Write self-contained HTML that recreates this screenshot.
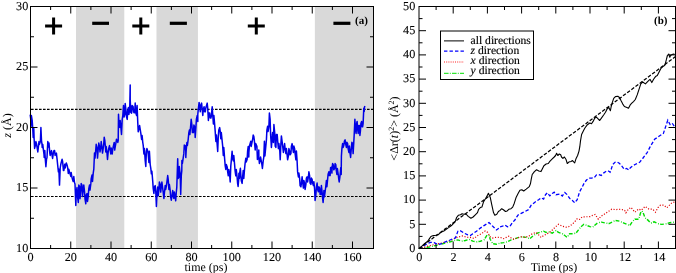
<!DOCTYPE html>
<html><head><meta charset="utf-8"><style>html,body{margin:0;padding:0;background:#fff;}svg{display:block;will-change:transform;text-rendering:geometricPrecision;}</style></head>
<body><svg width="676" height="273" viewBox="0 0 676 273"><rect x="75.98" y="6.5" width="48.30" height="242.0" fill="#d9d9d9"/>
<rect x="156.48" y="6.5" width="41.46" height="242.0" fill="#d9d9d9"/>
<rect x="314.87" y="6.5" width="58.63" height="242.0" fill="#d9d9d9"/>
<line x1="31.0" y1="109.35" x2="373.5" y2="109.35" stroke="#000" stroke-width="1.1" stroke-dasharray="2.6,1.4"/>
<line x1="31.0" y1="196.47" x2="373.5" y2="196.47" stroke="#000" stroke-width="1.1" stroke-dasharray="2.6,1.4"/>
<path d="M30.2,114.6 30.8,119.4 30.9,126.4 31.4,115.6 32.2,120.6 32.8,129.4 33.2,137.4 33.8,128.6 34.1,138.6 34.6,148.4 35.4,145.4 35.9,141.6 36.5,143.6 37.0,146.9 37.8,151.9 38.2,148.6 39.0,141.6 39.5,144.4 40.4,141.4 40.9,127.6 41.5,140.6 42.0,144.4 42.2,147.4 42.8,144.6 43.5,150.6 44.0,154.4 44.2,157.4 44.8,150.6 45.4,160.6 45.9,166.8 46.5,159.4 47.0,157.6 47.8,141.6 48.2,145.4 48.5,146.9 49.0,143.1 49.8,153.1 50.2,155.4 51.0,151.9 51.5,150.6 52.1,155.6 52.6,158.4 53.5,151.9 54.0,150.6 54.6,150.6 55.1,155.4 55.9,154.4 56.4,153.1 57.1,159.3 57.6,164.4 58.4,171.8 58.9,169.2 59.0,172.6 59.5,185.1 60.2,168.0 60.8,164.3 62.1,159.3 62.6,161.4 63.4,170.5 63.9,170.5 64.7,164.3 65.2,168.0 65.8,164.4 66.3,163.0 67.2,165.6 67.7,168.0 68.3,173.4 68.8,169.2 69.7,172.6 70.2,174.4 70.8,176.4 71.2,172.6 72.0,177.6 72.5,179.4 73.2,181.4 73.8,176.6 74.5,182.6 75.0,183.9 75.8,205.4 76.3,191.3 77.0,187.6 77.5,196.4 78.3,202.4 78.8,185.1 79.5,186.3 80.0,198.8 80.8,190.1 81.2,183.6 82.0,185.1 82.5,196.4 83.2,190.1 83.8,185.1 84.5,191.3 85.0,198.8 85.8,203.8 86.2,195.0 87.0,193.6 87.5,201.4 88.2,196.4 88.8,188.6 89.5,185.1 90.0,190.1 90.8,183.9 91.2,178.6 92.0,175.1 92.5,181.4 93.2,173.4 93.8,169.2 94.5,153.1 95.0,158.1 95.8,149.4 96.2,144.3 97.0,148.1 97.5,158.1 98.2,149.4 98.8,143.1 99.5,146.6 100.0,151.9 100.8,146.9 101.2,141.6 102.0,148.1 102.5,153.1 103.2,148.4 103.8,143.1 104.2,137.2 104.8,140.4 105.8,151.9 106.2,146.6 107.0,153.1 107.5,159.4 108.2,151.9 108.8,148.1 109.5,145.6 110.0,149.4 110.8,153.9 111.2,148.1 111.7,150.6 112.2,153.9 112.8,148.9 113.3,146.3 114.2,142.4 114.7,150.1 115.3,146.4 115.8,143.6 116.5,139.2 117.0,141.4 117.8,142.4 118.2,140.6 118.5,114.3 119.0,124.4 119.8,127.4 120.2,120.6 121.0,128.6 121.5,134.4 122.2,119.4 122.8,115.6 123.5,105.6 124.0,116.9 124.8,114.4 125.2,103.6 126.0,110.6 126.5,116.9 127.2,119.4 127.7,110.6 128.4,107.6 128.9,114.4 129.7,109.4 130.2,85.0 130.2,99.3 130.8,112.4 131.6,113.1 132.1,105.6 133.1,106.6 133.6,111.9 134.2,112.9 134.8,110.6 135.2,103.0 135.8,113.1 136.6,115.4 137.1,105.6 137.8,123.1 138.2,131.8 139.1,128.1 139.6,125.6 140.2,129.3 140.8,133.1 141.6,139.4 142.1,135.6 142.8,142.6 143.2,145.1 143.9,153.9 144.4,148.6 145.2,160.6 145.8,166.4 146.4,151.4 146.9,148.6 147.8,151.3 148.2,153.9 148.9,162.4 149.4,151.3 150.2,164.6 150.8,168.4 151.4,173.8 151.9,171.2 152.8,182.1 153.2,188.4 153.9,193.4 154.4,187.1 155.2,185.6 155.8,192.1 156.4,206.4 156.9,195.6 157.7,187.1 158.2,195.8 158.9,189.4 159.4,182.1 160.2,184.6 160.7,192.1 161.4,185.9 161.9,182.1 162.7,188.3 163.2,192.1 163.9,198.4 164.4,193.3 165.2,185.6 165.7,189.4 166.4,185.9 166.9,182.1 167.7,175.6 168.2,179.4 168.9,189.4 169.4,184.6 170.2,190.6 170.7,197.1 171.3,200.2 171.8,197.0 172.7,190.6 173.2,195.8 173.8,198.4 174.3,192.0 175.2,197.0 175.7,200.8 176.3,192.1 176.8,187.1 177.7,158.8 178.2,178.4 178.8,177.4 179.3,166.6 180.2,174.6 180.7,194.4 181.3,175.4 181.8,170.6 181.9,160.6 182.4,163.4 183.8,153.9 184.3,145.1 185.2,145.6 185.8,151.4 185.8,157.6 186.2,150.1 186.9,142.6 187.4,145.4 188.2,139.4 188.8,133.0 189.4,130.1 189.9,134.4 190.8,124.4 191.2,119.3 191.9,125.1 192.4,132.6 193.4,132.6 193.9,125.1 194.8,127.6 195.2,137.4 195.9,127.4 196.4,119.2 197.2,115.6 197.8,121.4 197.8,114.4 198.3,109.3 199.1,102.4 199.6,105.6 200.3,111.8 200.8,105.6 201.6,103.1 202.1,108.1 202.8,115.4 203.3,109.3 204.1,106.8 204.6,111.8 205.3,111.8 205.8,108.0 207.2,103.1 207.7,108.1 208.4,120.4 208.9,113.0 209.7,113.0 210.2,118.0 210.9,118.0 211.4,115.6 212.2,106.8 212.7,114.4 213.4,123.9 213.9,115.6 214.7,125.1 215.2,131.4 215.9,141.4 216.4,135.1 217.2,145.0 217.7,151.4 218.3,136.4 218.8,130.1 219.7,127.6 220.2,131.4 220.8,138.8 221.3,132.6 222.2,141.3 222.7,146.4 223.3,155.4 223.8,147.6 224.7,159.6 225.2,165.9 225.8,169.4 226.3,164.6 227.2,167.1 227.7,172.1 228.3,175.8 228.8,169.6 229.7,175.6 230.2,182.0 230.8,165.9 231.3,160.6 232.1,151.2 232.6,158.4 233.3,160.9 233.8,155.6 234.6,164.6 235.1,170.9 235.8,175.8 236.3,169.6 237.1,177.0 237.6,183.4 238.1,186.4 238.6,180.6 238.9,173.3 239.4,178.4 239.9,171.4 240.4,168.3 240.8,174.6 241.3,180.8 242.1,183.4 242.6,177.0 243.2,170.6 243.8,178.4 244.6,168.4 245.1,163.3 245.8,158.3 246.2,162.1 247.1,159.6 247.6,151.2 248.2,146.6 248.8,157.1 248.9,152.4 249.4,146.3 250.8,141.3 251.2,146.4 252.7,138.8 253.2,135.1 253.8,136.3 254.3,140.1 255.2,150.0 255.7,143.6 256.9,146.3 257.4,159.4 258.2,157.4 258.8,150.0 258.9,158.3 259.4,163.4 260.1,159.6 260.6,157.1 261.9,164.6 262.4,168.4 263.2,160.9 263.8,157.1 264.4,141.3 264.9,155.9 266.4,140.1 266.9,130.1 267.6,126.3 268.1,131.4 268.9,126.4 269.4,113.0 270.1,119.1 270.6,134.4 271.4,147.4 271.9,141.3 272.6,132.6 273.1,138.8 273.4,142.4 273.9,124.6 274.8,133.6 275.2,146.1 275.9,147.4 276.4,134.6 277.2,134.6 277.8,142.4 278.4,148.6 278.9,143.6 279.8,151.1 280.2,159.8 280.9,143.6 281.4,135.9 282.2,142.3 282.8,147.4 283.4,152.4 283.9,148.6 284.6,143.6 285.1,148.6 285.9,153.6 286.4,148.6 287.1,154.6 287.6,159.8 288.4,156.1 288.9,148.6 289.6,151.1 290.1,154.8 290.9,153.6 291.4,146.1 292.1,143.6 292.6,147.4 293.4,152.4 293.9,146.1 294.6,148.6 295.1,153.6 295.9,159.8 296.4,151.1 297.1,161.0 297.6,171.9 298.4,176.9 298.9,173.1 299.6,178.1 300.1,185.6 300.9,186.8 301.4,183.1 302.1,176.8 302.6,181.9 303.4,188.1 303.9,180.6 304.6,183.1 305.1,189.4 305.9,184.4 306.4,178.1 307.1,176.8 307.6,181.9 308.4,176.9 308.9,171.8 309.6,175.6 310.1,183.1 310.9,184.4 311.4,178.1 312.1,179.3 312.6,183.1 313.4,185.6 313.9,181.8 314.6,189.3 315.1,200.4 315.9,194.4 316.4,186.8 317.1,183.1 317.6,189.4 318.4,191.8 318.9,186.8 319.6,188.0 320.1,194.4 320.9,194.4 321.4,185.6 322.1,191.8 322.6,198.1 323.1,202.4 323.6,196.6 323.9,190.6 324.4,196.8 325.1,191.8 325.6,188.0 326.4,180.6 326.9,186.8 327.6,179.4 328.1,174.3 328.9,171.8 329.4,175.6 330.1,175.6 330.6,167.6 331.4,167.3 331.9,173.1 332.1,168.4 332.6,163.6 333.2,164.6 333.8,169.8 334.6,168.4 335.1,163.6 335.8,164.6 336.2,169.8 336.9,174.4 337.4,168.6 338.2,174.3 338.8,179.4 339.2,181.9 339.8,177.6 340.8,167.6 341.2,174.4 341.4,156.1 341.9,148.6 342.6,143.6 343.1,147.4 343.9,144.9 344.4,141.1 345.1,139.8 345.6,143.6 346.4,147.4 346.9,142.3 347.6,143.6 348.1,148.6 348.9,152.4 349.4,146.1 350.1,153.6 350.6,157.4 351.4,147.4 351.9,142.3 352.6,143.6 353.1,153.6 353.8,142.1 354.2,134.6 354.9,119.2 355.4,129.4 356.1,133.4 356.6,123.6 357.1,121.4 357.6,128.9 358.2,133.4 358.8,125.6 359.4,125.6 359.9,135.4 360.4,131.1 360.9,123.6 361.6,121.4 362.1,126.8 362.6,126.8 363.1,123.6 363.8,108.2 364.2,111.4 364.4,107.4 364.9,106.1" fill="none" stroke="#0000e6" stroke-width="1.5" stroke-linejoin="round"/>
<rect x="30.5" y="6.5" width="343.0" height="242.0" fill="none" stroke="#000" stroke-width="1"/>
<path d="M50.62,248.5v-3.5M50.62,6.5v3.5M70.75,248.5v-7M70.75,6.5v7M90.88,248.5v-3.5M90.88,6.5v3.5M111.00,248.5v-7M111.00,6.5v7M131.12,248.5v-3.5M131.12,6.5v3.5M151.25,248.5v-7M151.25,6.5v7M171.38,248.5v-3.5M171.38,6.5v3.5M191.50,248.5v-7M191.50,6.5v7M211.63,248.5v-3.5M211.63,6.5v3.5M231.75,248.5v-7M231.75,6.5v7M251.88,248.5v-3.5M251.88,6.5v3.5M272.00,248.5v-7M272.00,6.5v7M292.12,248.5v-3.5M292.12,6.5v3.5M312.25,248.5v-7M312.25,6.5v7M332.38,248.5v-3.5M332.38,6.5v3.5M352.50,248.5v-7M352.50,6.5v7M30.5,218.25h3.5M373.5,218.25h-3.5M30.5,188.00h7M373.5,188.00h-7M30.5,157.75h3.5M373.5,157.75h-3.5M30.5,127.50h7M373.5,127.50h-7M30.5,97.25h3.5M373.5,97.25h-3.5M30.5,67.00h7M373.5,67.00h-7M30.5,36.75h3.5M373.5,36.75h-3.5" stroke="#000" stroke-width="1" fill="none"/>
<g font-family="Liberation Serif" font-size="12.2" fill="#000" stroke="#000" stroke-width="0.1"><text x="30.50" y="260.9" text-anchor="middle">0</text><text x="70.75" y="260.9" text-anchor="middle">20</text><text x="111.00" y="260.9" text-anchor="middle">40</text><text x="151.25" y="260.9" text-anchor="middle">60</text><text x="191.50" y="260.9" text-anchor="middle">80</text><text x="231.75" y="260.9" text-anchor="middle">100</text><text x="272.00" y="260.9" text-anchor="middle">120</text><text x="312.25" y="260.9" text-anchor="middle">140</text><text x="352.50" y="260.9" text-anchor="middle">160</text><text x="28.3" y="251.60" text-anchor="end">10</text><text x="28.3" y="191.10" text-anchor="end">15</text><text x="28.3" y="130.60" text-anchor="end">20</text><text x="28.3" y="70.10" text-anchor="end">25</text><text x="28.3" y="9.60" text-anchor="end">30</text></g>
<text x="206" y="270.5" text-anchor="middle" font-family="Liberation Serif" font-size="12">time (ps)</text>
<text transform="translate(10.5,125.5) rotate(-90)" text-anchor="middle" font-family="Liberation Serif" font-size="12"><tspan font-style="italic">z</tspan> (Å)</text>
<path d="M45.1,25.9h17M53.6,17.4v17" stroke="#000" stroke-width="3"/>
<path d="M92.2,23.3H109" stroke="#000" stroke-width="3.2"/>
<path d="M132.3,25.9h17M140.8,17.4v17" stroke="#000" stroke-width="3"/>
<path d="M169.8,23.3H186.9" stroke="#000" stroke-width="3.2"/>
<path d="M247.8,25.9h17M256.3,17.4v17" stroke="#000" stroke-width="3"/>
<path d="M333.4,23.3H350.4" stroke="#000" stroke-width="3.2"/>
<text x="355" y="23.5" font-family="Liberation Serif" font-weight="bold" font-size="11">(a)</text>
<path d="M418.9,248.5 420.5,248.4 425.5,247.6 430.5,246.8 435.4,245.5 440.4,244.3 445.4,243.0 450.4,241.8 454.1,240.5 457.9,239.9 461.6,241.2 465.3,240.5 469.1,239.3 472.8,241.2 476.5,241.8 480.3,241.2 484.0,239.9 487.1,234.9 489.0,235.5 490.2,239.3 492.7,243.6 496.5,244.3 500.2,243.0 503.7,242.6 507.5,241.8 511.2,239.9 514.9,238.7 518.7,237.4 522.4,236.8 526.2,237.4 529.9,238.7 533.6,235.5 537.4,233.1 541.1,231.8 543.6,231.2 546.1,232.4 548.6,231.8 552.3,233.1 556.0,230.6 558.5,232.4 562.3,233.7 564.8,235.5 567.2,237.4 569.7,233.7 573.5,233.7 576.0,233.1 578.5,229.9 580.9,226.8 583.9,224.3 587.0,225.5 590.0,226.7 592.6,227.2 595.1,225.0 597.7,222.8 601.5,222.1 605.4,223.1 609.2,223.5 613.1,221.5 615.6,220.5 619.5,221.2 623.3,222.8 627.2,224.4 629.7,225.6 632.3,221.8 634.9,219.2 638.7,219.2 640.6,212.8 641.9,210.9 643.2,212.8 645.1,217.9 647.7,219.9 650.9,223.1 654.1,221.8 657.9,223.7 661.8,224.4 664.4,224.1 666.9,223.7 669.5,222.8 672.1,222.4 674.5,222.0" fill="none" stroke="#00dd00" stroke-width="1.4" stroke-dasharray="3.8,1.8,0.8,1.3"/><path d="M418.9,248.5 420.5,248.0 425.5,246.8 430.5,245.5 435.4,244.3 440.4,243.4 445.4,242.1 450.4,240.5 455.4,238.0 459.1,236.8 462.8,235.9 466.6,237.2 470.3,237.4 474.0,238.4 477.8,235.5 481.5,233.7 485.2,230.9 487.7,232.4 490.2,236.8 492.7,238.0 496.5,237.2 500.2,237.4 503.7,238.7 506.2,237.4 508.7,236.2 511.2,238.0 513.7,239.3 517.4,238.0 521.2,236.8 524.9,237.4 528.6,236.2 532.4,233.7 536.1,232.4 538.6,234.9 541.1,237.4 543.6,235.5 547.3,233.7 551.1,231.2 554.8,227.5 558.5,224.3 562.3,226.2 566.0,227.2 568.5,226.8 572.2,224.3 574.7,221.8 577.2,218.7 579.7,219.4 582.2,216.9 585.0,216.8 590.0,216.7 592.6,215.4 595.1,214.4 598.3,219.2 601.5,216.0 605.4,213.5 609.2,210.9 611.8,209.2 615.6,209.6 620.8,209.2 624.6,210.3 625.9,212.8 628.5,209.0 631.0,207.4 634.9,212.2 638.7,209.0 641.3,210.3 645.1,206.4 649.0,209.2 652.8,209.2 655.4,212.2 657.9,207.7 660.5,205.1 663.7,205.1 666.9,207.7 669.5,205.1 672.1,202.6 674.5,202.0" fill="none" stroke="#e00000" stroke-width="1.2" stroke-dasharray="1.1,1.7"/><path d="M418.9,248.5 420.5,248.0 424.2,245.5 428.0,243.4 430.5,242.4 434.2,242.6 437.9,244.6 441.7,243.6 445.4,241.8 449.1,240.5 452.9,238.7 455.4,238.0 457.9,231.2 460.3,230.6 464.1,233.1 467.8,234.9 470.3,235.5 472.8,233.7 476.5,231.2 480.3,228.1 484.0,225.6 487.1,223.7 489.0,222.5 491.5,225.0 494.0,227.5 496.5,229.9 498.9,228.1 500.0,226.8 502.5,226.2 505.0,225.0 507.5,226.8 510.0,226.2 512.5,222.5 514.9,220.0 516.8,216.9 518.1,215.0 521.2,213.4 524.9,211.5 528.6,209.6 531.1,205.3 534.9,202.2 538.6,199.7 541.1,197.8 543.6,199.1 545.5,194.7 547.3,192.8 549.8,195.9 552.3,193.5 554.2,192.2 556.0,194.7 559.8,194.1 562.3,196.0 564.8,192.5 567.2,194.7 569.7,198.4 572.2,200.3 574.7,202.8 577.2,199.7 579.6,191.8 581.9,187.7 584.2,183.1 586.5,180.0 588.8,178.2 591.9,178.0 594.2,177.7 596.5,174.9 598.8,174.6 601.2,175.4 603.5,173.1 605.8,171.5 608.1,170.8 610.1,172.3 611.2,169.2 612.7,164.6 615.0,162.3 617.3,162.0 619.6,163.5 621.9,166.2 624.2,169.2 626.5,168.5 628.8,170.0 630.4,167.7 633.5,165.4 636.5,163.8 639.6,162.3 642.7,158.5 645.0,155.4 647.3,152.4 650.2,146.6 654.6,139.3 659.0,136.3 663.4,133.4 666.3,124.6 667.8,120.2 670.1,124.6 672.2,123.2 674.2,126.1" fill="none" stroke="#0000ff" stroke-width="1.3" stroke-dasharray="3.5,2"/><path d="M419,248.5L675.5,56.6" fill="none" stroke="#000" stroke-width="1.25" stroke-dasharray="3.5,1.7"/><path d="M418.9,248.5 420.4,247.7 424.5,243.7 427.7,241.3 429.3,238.9 430.9,236.5 433.3,235.6 435.7,235.3 438.2,234.8 440.6,232.4 443.8,231.1 446.2,229.2 448.6,227.6 451.9,225.2 455.1,221.9 456.6,217.5 458.3,215.3 460.5,214.8 462.1,213.7 463.8,214.2 466.0,214.0 468.2,216.4 470.9,218.3 473.1,217.0 475.3,214.8 477.5,212.6 478.6,209.3 480.3,207.6 481.9,207.1 483.6,201.6 485.8,198.3 487.8,194.5 488.4,193.3 490.2,197.2 491.8,204.9 493.5,212.6 494.8,215.3 496.8,214.2 498.4,211.5 500.1,210.4 501.7,208.7 503.4,209.8 505.5,211.5 507.2,210.9 508.8,209.3 511.0,208.7 512.7,207.1 514.3,203.2 516.2,197.2 518.1,193.5 519.9,190.3 521.8,189.7 523.7,191.0 526.2,189.1 529.3,186.6 530.5,183.5 531.2,179.4 532.2,174.5 534.4,171.6 536.6,169.8 538.8,170.9 541.0,171.6 542.4,168.7 543.9,165.7 546.1,164.0 548.3,163.5 549.8,161.4 552.0,159.2 554.2,157.0 555.6,155.5 556.6,153.3 557.8,155.5 559.3,154.0 560.7,154.8 561.5,157.0 562.9,158.4 564.4,157.0 565.9,159.2 567.3,163.5 568.8,162.1 571.0,161.4 572.5,160.6 573.9,162.1 574.7,162.8 576.1,158.4 577.6,155.5 579.0,151.1 579.8,146.7 580.5,140.9 581.6,134.5 583.2,131.2 584.9,128.0 587.4,124.7 589.8,123.0 591.5,123.8 593.1,121.4 594.8,118.1 596.4,117.2 598.1,118.9 599.7,120.5 601.4,118.1 603.8,114.8 605.5,112.3 607.1,109.0 608.8,107.4 610.4,110.7 611.2,106.5 612.1,103.2 613.7,98.3 615.4,96.6 617.8,96.3 619.5,97.5 621.1,100.8 622.8,104.1 624.4,106.5 626.9,107.4 628.5,108.2 630.2,104.9 631.8,103.2 633.5,101.6 635.3,99.5 637.2,94.9 639.0,89.4 640.8,83.9 642.7,82.0 645.4,83.9 648.1,81.1 650.0,79.3 651.8,82.6 653.6,79.3 655.5,76.6 657.3,75.6 659.1,72.0 661.0,68.3 662.8,66.5 664.6,65.6 665.5,62.8 666.5,59.2 667.4,55.5 668.7,54.0 669.8,57.3 670.5,55.5 672.0,54.6 673.8,54.0 674.5,54.6" fill="none" stroke="#000" stroke-width="1.1" stroke-linejoin="round"/>
<rect x="419.0" y="6.5" width="256.50" height="242.0" fill="none" stroke="#000" stroke-width="1"/>
<path d="M436.10,248.5v-3.5M436.10,6.5v3.5M453.20,248.5v-7M453.20,6.5v7M470.30,248.5v-3.5M470.30,6.5v3.5M487.40,248.5v-7M487.40,6.5v7M504.50,248.5v-3.5M504.50,6.5v3.5M521.60,248.5v-7M521.60,6.5v7M538.70,248.5v-3.5M538.70,6.5v3.5M555.80,248.5v-7M555.80,6.5v7M572.90,248.5v-3.5M572.90,6.5v3.5M590.00,248.5v-7M590.00,6.5v7M607.10,248.5v-3.5M607.10,6.5v3.5M624.20,248.5v-7M624.20,6.5v7M641.30,248.5v-3.5M641.30,6.5v3.5M658.40,248.5v-7M658.40,6.5v7M419.0,236.40h3.5M675.5,236.40h-3.5M419.0,224.30h7M675.5,224.30h-7M419.0,212.20h3.5M675.5,212.20h-3.5M419.0,200.10h7M675.5,200.10h-7M419.0,188.00h3.5M675.5,188.00h-3.5M419.0,175.90h7M675.5,175.90h-7M419.0,163.80h3.5M675.5,163.80h-3.5M419.0,151.70h7M675.5,151.70h-7M419.0,139.60h3.5M675.5,139.60h-3.5M419.0,127.50h7M675.5,127.50h-7M419.0,115.40h3.5M675.5,115.40h-3.5M419.0,103.30h7M675.5,103.30h-7M419.0,91.20h3.5M675.5,91.20h-3.5M419.0,79.10h7M675.5,79.10h-7M419.0,67.00h3.5M675.5,67.00h-3.5M419.0,54.90h7M675.5,54.90h-7M419.0,42.80h3.5M675.5,42.80h-3.5M419.0,30.70h7M675.5,30.70h-7M419.0,18.60h3.5M675.5,18.60h-3.5" stroke="#000" stroke-width="1" fill="none"/>
<g font-family="Liberation Serif" font-size="12.2" fill="#000" stroke="#000" stroke-width="0.1"><text x="419.30" y="260.6" text-anchor="middle">0</text><text x="453.50" y="260.6" text-anchor="middle">2</text><text x="487.70" y="260.6" text-anchor="middle">4</text><text x="521.90" y="260.6" text-anchor="middle">6</text><text x="556.10" y="260.6" text-anchor="middle">8</text><text x="590.90" y="260.6" text-anchor="middle">10</text><text x="625.10" y="260.6" text-anchor="middle">12</text><text x="659.30" y="260.6" text-anchor="middle">14</text><text x="415.3" y="251.80" text-anchor="end">0</text><text x="415.3" y="227.60" text-anchor="end">5</text><text x="415.3" y="203.40" text-anchor="end">10</text><text x="415.3" y="179.20" text-anchor="end">15</text><text x="415.3" y="155.00" text-anchor="end">20</text><text x="415.3" y="130.80" text-anchor="end">25</text><text x="415.3" y="106.60" text-anchor="end">30</text><text x="415.3" y="82.40" text-anchor="end">35</text><text x="415.3" y="58.20" text-anchor="end">40</text><text x="415.3" y="34.00" text-anchor="end">45</text><text x="415.3" y="9.80" text-anchor="end">50</text></g>
<text x="554" y="270.5" text-anchor="middle" font-family="Liberation Serif" font-size="12">Time (ps)</text>
<text transform="translate(398,128.5) rotate(-90)" text-anchor="middle" font-family="Liberation Serif" font-size="12">&lt;Δr(<tspan font-style="italic">t</tspan>)<tspan font-size="8" dy="-4">2</tspan><tspan dy="4">&gt; (Å</tspan><tspan font-size="8" dy="-4">2</tspan><tspan dy="4">)</tspan></text>
<text x="654" y="24.0" font-family="Liberation Serif" font-weight="bold" font-size="11">(b)</text>
<rect x="440.5" y="31" width="93" height="48.5" fill="#fff" stroke="#000" stroke-width="1"/>
<line x1="444" y1="40.9" x2="464" y2="40.9" stroke="#000" stroke-width="1.0" stroke-dasharray="none"/>
<text x="470.6" y="44.0" font-family="Liberation Serif" font-size="11.6" stroke="#000" stroke-width="0.15">all directions</text>
<line x1="444" y1="51.2" x2="464" y2="51.2" stroke="#0000ff" stroke-width="1.2" stroke-dasharray="3.4,2.1"/>
<text x="470.6" y="53.8" font-family="Liberation Serif" font-size="11.6" stroke="#000" stroke-width="0.15"><tspan font-style="italic">z</tspan> direction</text>
<line x1="444" y1="62.0" x2="464" y2="62.0" stroke="#ff2020" stroke-width="1.0" stroke-dasharray="1,1.2"/>
<text x="470.6" y="63.6" font-family="Liberation Serif" font-size="11.6" stroke="#000" stroke-width="0.15"><tspan font-style="italic">x</tspan> direction</text>
<line x1="444" y1="73.3" x2="464" y2="73.3" stroke="#00e000" stroke-width="1.0" stroke-dasharray="4.6,1.2,1,1.2"/>
<text x="470.6" y="74.1" font-family="Liberation Serif" font-size="11.6" stroke="#000" stroke-width="0.15"><tspan font-style="italic">y</tspan> direction</text></svg></body></html>
